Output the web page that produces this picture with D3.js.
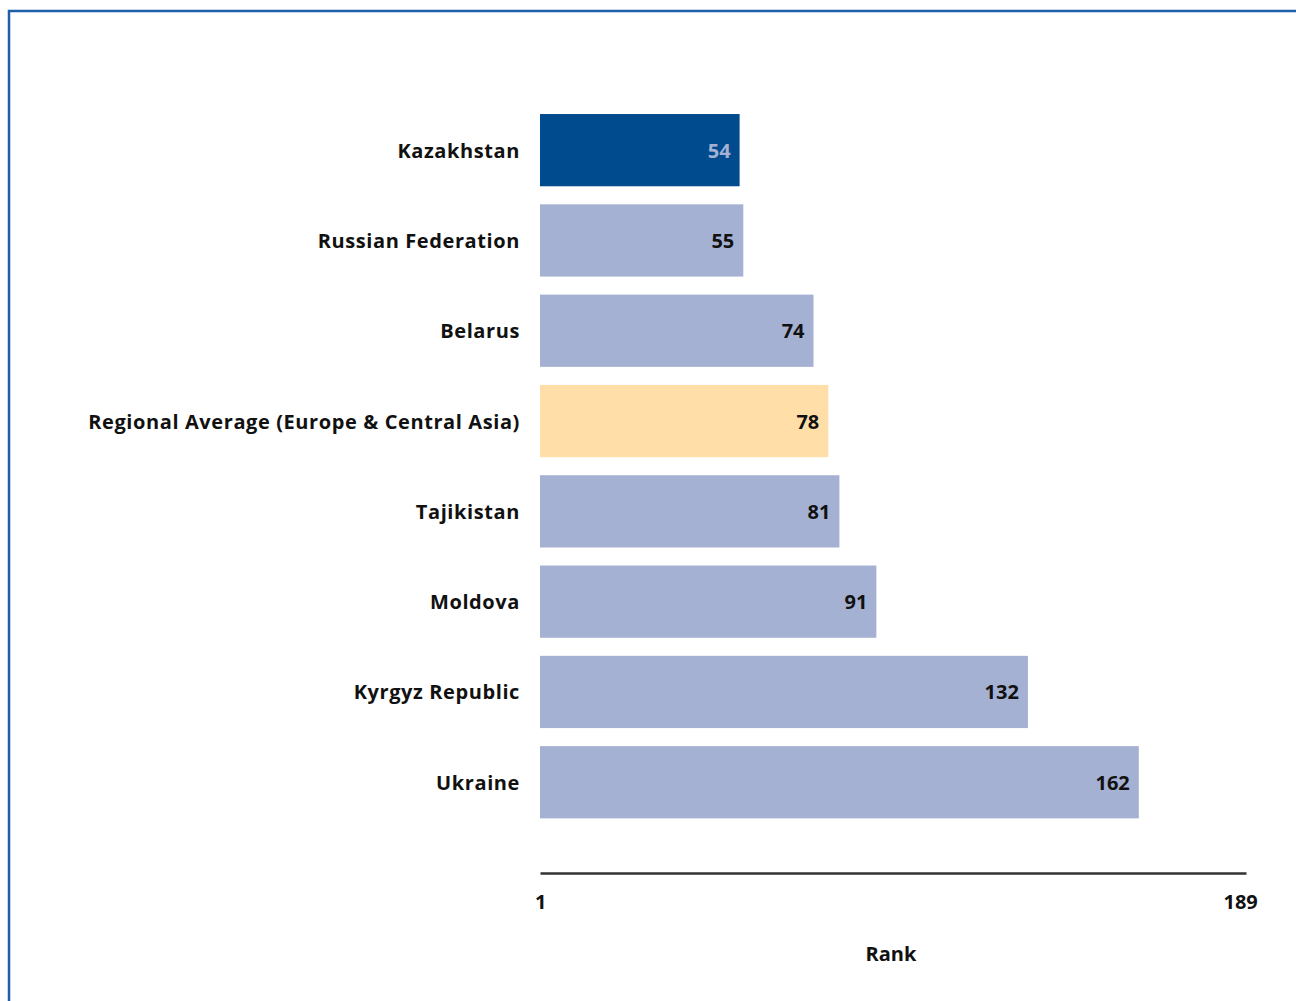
<!DOCTYPE html>
<html><head><meta charset="utf-8">
<script src="https://cdn.jsdelivr.net/npm/d3@7"></script>
<style>html,body{margin:0;padding:0;background:#fff;}svg{display:block;}</style>
</head><body>
<svg id="chart" width="1296" height="1001"></svg>
<script>
const categories = ["Kazakhstan","Russian Federation","Belarus","Regional Average (Europe & Central Asia)","Tajikistan","Moldova","Kyrgyz Republic","Ukraine"];
const ranks = [54,55,74,78,81,91,132,162];
const kinds = ["focus","other","other","region","other","other","other","other"];
const tickValues = [1,189];
const axisTitle = "Rank";

const colorFill = {focus:"#004b8d", other:"#a5b1d3", region:"#ffdea8"};
const colorLabel = {focus:"#a5b1d3", other:"#111111", region:"#111111"};
const FONT = "'Open Sans', 'Noto Sans', sans-serif";
const FS = 20, LS = 0.6;

const svg = d3.select("#chart");
svg.append("rect").attr("x",9).attr("y",11).attr("width",1300).attr("height",1000)
  .attr("fill","none").attr("stroke","#1f5ea8").attr("stroke-width",2.5);

const x = d3.scaleLinear().domain([0,191]).range([540,1246]);
const y = d3.scaleBand().domain(categories).range([105,827.4]).paddingInner(0.2).paddingOuter(0.1);

const rows = categories.map((c,i)=>({c, v:ranks[i], k:kinds[i]}));

svg.selectAll("rect.bar").data(rows).join("rect").attr("class","bar")
  .attr("x", x(0)).attr("y", d=>y(d.c))
  .attr("width", d=>x(d.v)-x(0)).attr("height", y.bandwidth())
  .attr("fill", d=>colorFill[d.k]);

svg.selectAll("text.val").data(rows).join("text").attr("class","val")
  .attr("x", d=>x(d.v)-9).attr("y", d=>y(d.c)+y.bandwidth()/2)
  .attr("text-anchor","end").attr("dominant-baseline","central")
  .attr("font-family",FONT).attr("font-weight","bold").attr("font-size",FS)
  .attr("fill", d=>colorLabel[d.k]).text(d=>d.v);

svg.selectAll("text.cat").data(rows).join("text").attr("class","cat")
  .attr("x", 520).attr("y", d=>y(d.c)+y.bandwidth()/2)
  .attr("text-anchor","end").attr("dominant-baseline","central")
  .attr("font-family",FONT).attr("font-weight","bold").attr("font-size",FS)
  .attr("letter-spacing",LS)
  .attr("fill","#111").text(d=>d.c);

// axis
const axisY = 873;
const ax = svg.append("g").attr("transform",`translate(0,${axisY})`)
  .call(d3.axisBottom(x).tickValues(tickValues).tickSize(0).tickPadding(22));
ax.select(".domain").attr("stroke","#333").attr("stroke-width",2.5);
ax.selectAll(".tick").attr("transform", d=>`translate(${x(d) + (d===1?-3:2)},0)`);
ax.selectAll("text").attr("font-family",FONT).attr("font-weight","bold")
  .attr("font-size",FS).attr("fill","#111");

svg.append("text").attr("x",(x.range()[0]+x.range()[1])/2 - 2).attr("y",953)
  .attr("text-anchor","middle").attr("dominant-baseline","central")
  .attr("font-family",FONT).attr("font-weight","bold").attr("font-size",FS)
  .attr("fill","#111").text(axisTitle);
</script>
</body></html>
